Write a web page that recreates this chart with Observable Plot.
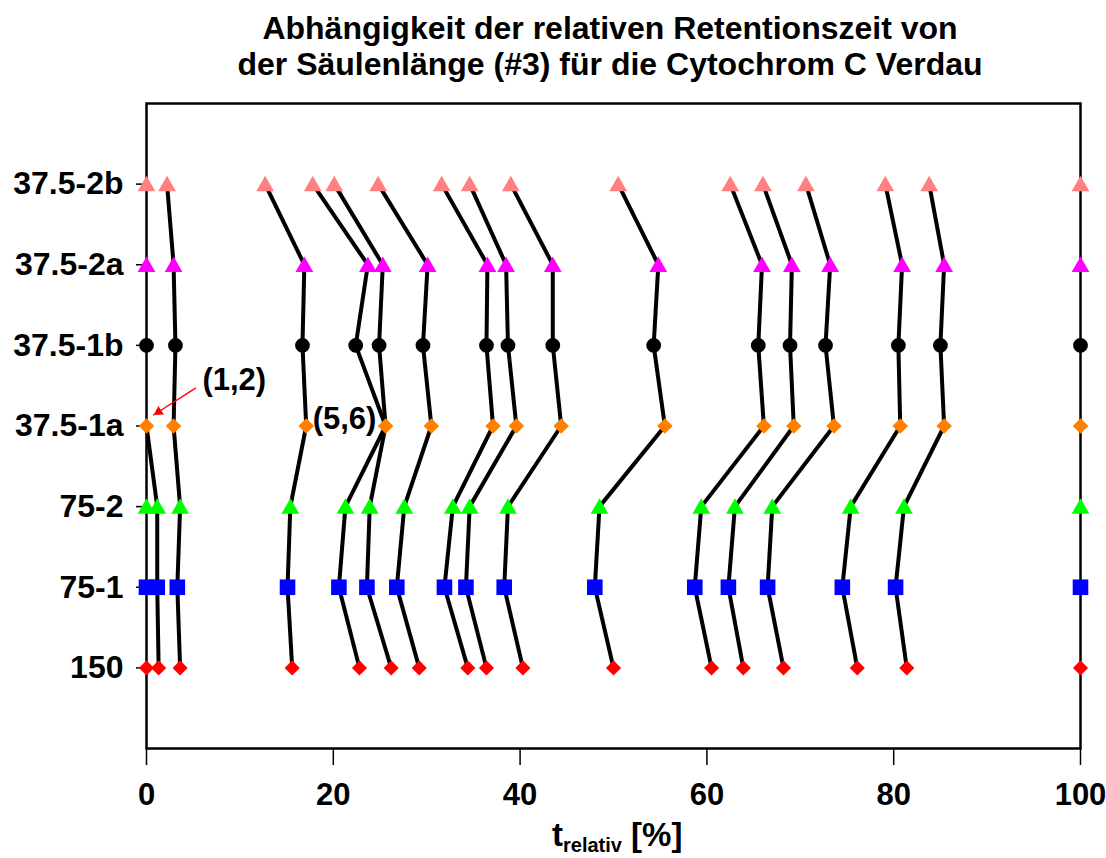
<!DOCTYPE html>
<html>
<head>
<meta charset="utf-8">
<script src="https://cdn.jsdelivr.net/npm/d3@7"></script>
<script src="https://cdn.jsdelivr.net/npm/@observablehq/plot@0.6"></script>
<style>
  html, body { margin: 0; padding: 0; background: #fff; }
  #wrap { position: relative; width: 1106px; height: 858px; overflow: hidden;
          font-family: "Liberation Sans", Arial, sans-serif; font-weight: bold; color: #000; }
  #title { position: absolute; top: 10px; left: 610px; transform: translateX(-50%);
           white-space: nowrap; text-align: center; font-size: 32px; line-height: 36px; }
  #xlabel { position: absolute; top: 817px; left: 552px; white-space: nowrap;
            font-size: 33px; line-height: 36px; }
  #xlabel sub { font-size: 20px; vertical-align: -6px; line-height: 0; }
  #chart { position: absolute; top: 0; left: 0; }
</style>
</head>
<body>
<div id="wrap">
  <div id="chart"></div>
  <div id="title">Abhängigkeit der relativen Retentionszeit von<br>der Säulenlänge (#3) für die Cytochrom C Verdau</div>
  <div id="xlabel">t<sub>relativ</sub> [%]</div>
</div>
<script>
// Row (column configuration) labels, bottom to top
const rowLabels = ["150", "75-1", "75-2", "37.5-1a", "37.5-1b", "37.5-2a", "37.5-2b"];
const xTicks = [0, 20, 40, 60, 80, 100];

// Relative retention times [%] per row
const x_2b  = [0, 2.2, 12.7, 17.8, 20.1, 24.8, 31.6, 34.6, 39.0, 50.5, 62.5, 66.0, 70.6, 79.1, 83.8, 100];
const x_2a  = [0, 2.9, 16.9, 23.7, 25.3, 30.1, 36.5, 38.5, 43.5, 54.8, 65.9, 69.1, 73.2, 80.9, 85.4, 100];
const x_1b  = [0, 3.1, 16.7, 22.4, 24.9, 29.6, 36.4, 38.7, 43.5, 54.3, 65.5, 68.9, 72.7, 80.5, 85.0, 100];
const x_1a  = [0, 2.9, 17.1, 25.6, 30.5, 37.1, 39.6, 44.4, 55.5, 66.1, 69.3, 73.6, 80.7, 85.4, 100];
const x_752 = [0, 1.15, 3.6, 15.4, 21.3, 23.9, 27.6, 32.8, 34.6, 38.7, 48.5, 59.4, 63.0, 67.0, 75.4, 81.1, 100];
const x_751 = [0, 1.15, 3.3, 15.1, 20.6, 23.6, 26.8, 31.9, 34.2, 38.3, 48.0, 58.7, 62.3, 66.5, 74.5, 80.2, 100];
const x_150 = [0, 1.3, 3.6, 15.6, 22.8, 26.2, 29.2, 34.4, 36.4, 40.3, 50.0, 60.5, 63.9, 68.2, 76.1, 81.4, 100];

// Peak assignments between neighbouring rows (index in upper row -> index in lower row)
const link_2b_2a  = [[1,1],[2,2],[3,3],[4,4],[5,5],[6,6],[7,7],[8,8],[9,9],[10,10],[11,11],[12,12],[13,13],[14,14]];
const link_2a_1b  = [[1,1],[2,2],[3,3],[4,4],[5,5],[6,6],[7,7],[8,8],[9,9],[10,10],[11,11],[12,12],[13,13],[14,14]];
const link_1b_1a  = [[1,1],[2,2],[3,3],[4,3],[5,4],[6,5],[7,6],[8,7],[9,8],[10,9],[11,10],[12,11],[13,12],[14,13]];
const link_1a_752 = [[0,1],[1,2],[2,3],[3,4],[3,5],[4,6],[5,7],[6,8],[7,9],[8,10],[9,11],[10,12],[11,13],[12,14],[13,15]];
const link_752_751 = [[1,1],[2,2],[3,3],[4,4],[5,5],[6,6],[7,7],[8,8],[9,9],[10,10],[11,11],[12,12],[13,13],[14,14],[15,15]];
const link_751_150 = [[1,1],[2,2],[3,3],[4,4],[5,5],[6,6],[7,7],[8,8],[9,9],[10,10],[11,11],[12,12],[13,13],[14,14],[15,15]];

// Annotations
const labels = [
  {text: "(1,2)", x: 9.4, y: 3.57},
  {text: "(5,6)", x: 21.2, y: 3.08}
];
const arrows = [{x1: 5.25, y1: 3.47, x2: 0.75, y2: 3.136}];
const arrowHeads = [{x: 1.3, y: 3.176, angle: 237}];

// Build tables
const rowsData = [
  {arr: x_150, yi: 0, symbol: "diamond2", fill: "#ff0000", r: 6.8},
  {arr: x_751, yi: 1, symbol: "square",   fill: "#0000ff", r: 8.8},
  {arr: x_752, yi: 2, symbol: "triangle", fill: "#00ff00", r: 6.6},
  {arr: x_1a,  yi: 3, symbol: "diamond2", fill: "#ff8000", r: 7},
  {arr: x_1b,  yi: 4, symbol: "circle",   fill: "#000000", r: 7.4},
  {arr: x_2a,  yi: 5, symbol: "triangle", fill: "#ff00ff", r: 6.6},
  {arr: x_2b,  yi: 6, symbol: "triangle", fill: "#ff8080", r: 6.6}
];
const linkSets = [
  [x_2b, 6, x_2a, 5, link_2b_2a],
  [x_2a, 5, x_1b, 4, link_2a_1b],
  [x_1b, 4, x_1a, 3, link_1b_1a],
  [x_1a, 3, x_752, 2, link_1a_752],
  [x_752, 2, x_751, 1, link_752_751],
  [x_751, 1, x_150, 0, link_751_150]
];
const links = [];
for (const [a, ya, b, yb, pairs] of linkSets) {
  for (const [i, j] of pairs) links.push({x1: a[i], y1: ya, x2: b[j], y2: yb});
}

const dotMarks = rowsData.map(row =>
  Plot.dot(row.arr.map(v => ({x: v, y: row.yi})), {
    x: "x", y: "y", symbol: () => row.symbol, fill: row.fill, r: row.r,
    dy: row.symbol === "triangle" ? 2 : 0
  })
);

const chart = Plot.plot({
  width: 1106,
  height: 858,
  marginLeft: 146,
  marginRight: 26,
  marginTop: 103,
  marginBottom: 110,
  style: {fontFamily: "'Liberation Sans', Arial, sans-serif", fontWeight: "bold", fontSize: "31px", color: "#000", background: "transparent"},
  x: {domain: [0, 100]},
  y: {domain: [-1, 7]},
  symbol: {type: "identity"},
  marks: [
    Plot.axisX({ticks: xTicks, tickSize: 17, tickPadding: 17, label: null, strokeWidth: 1.5, fontSize: 31}),
    Plot.axisY({ticks: [0, 1, 2, 3, 4, 5, 6], tickFormat: i => rowLabels[i], tickSize: 10, tickPadding: 13, label: null, strokeWidth: 1.5, fontSize: 32}),
    Plot.link(links, {x1: "x1", y1: "y1", x2: "x2", y2: "y2", stroke: "black", strokeWidth: 4}),
    Plot.frame({stroke: "black", strokeWidth: 2.5}),
    ...dotMarks,
    Plot.arrow(arrows, {x1: "x1", y1: "y1", x2: "x2", y2: "y2", stroke: "#ff0000", strokeWidth: 1.3, headLength: 0}),
    Plot.dot(arrowHeads, {x: "x", y: "y", rotate: "angle", symbol: "triangle", r: 3.8, fill: "#ff0000"}),
    Plot.text(labels, {x: "x", y: "y", text: "text", fontSize: 31, fontWeight: "bold", fill: "black"})
  ]
});
document.getElementById("chart").appendChild(chart);
</script>
</body>
</html>
